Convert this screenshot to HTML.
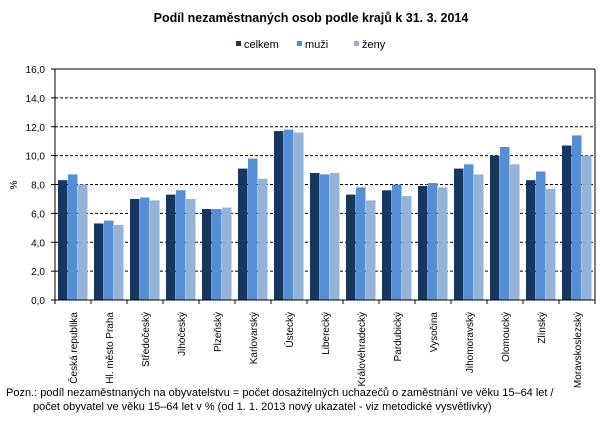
<!DOCTYPE html>
<html><head><meta charset="utf-8"><style>
body{margin:0;background:#fff;}
svg{display:block;font-family:"Liberation Sans",Arial,sans-serif;}
</style></head><body>
<svg id="chart" width="610" height="442">
<text x="311" y="22" text-anchor="middle" font-size="12.5" font-weight="bold" fill="#000">Podíl nezaměstnaných  osob  podle krajů  k 31. 3. 2014</text>
<g>
<g><rect x="236" y="41" width="5" height="5" fill="#17375e"/><text x="244" y="48" font-size="11">celkem</text></g>
<g><rect x="297" y="41" width="5" height="5" fill="#558ed5"/><text x="305" y="48" font-size="11">muži</text></g>
<g><rect x="354" y="41" width="5" height="5" fill="#95b3d7"/><text x="362" y="48" font-size="11">ženy</text></g>
</g>
<text transform="translate(17,185) rotate(-90)" text-anchor="middle" font-size="10">%</text>
<g id="grid"></g><g id="bars"></g><g id="axes"></g>
<text x="6" y="396" font-size="11">Pozn.: podíl nezaměstnaných na obyvatelstvu = počet dosažitelných uchazečů o zaměstnání ve věku 15–64 let /</text>
<text x="33" y="410" font-size="11">počet obyvatel ve věku 15–64 let v % (od 1. 1. 2013 nový ukazatel - viz metodické vysvětlivky)</text>
</svg>
<script>
const categories=["Česká republika","Hl. město Praha","Středočeský","Jihočeský","Plzeňský","Karlovarský","Ústecký","Liberecký","Královéhradecký","Pardubický","Vysočina","Jihomoravský","Olomoucký","Zlínský","Moravskoslezský"];
const celkem=[8.3,5.3,7.0,7.3,6.3,9.1,11.7,8.8,7.3,7.6,7.9,9.1,10.0,8.3,10.7];
const muzi=[8.7,5.5,7.1,7.6,6.3,9.8,11.8,8.7,7.8,8.0,8.1,9.4,10.6,8.9,11.4];
const zeny=[8.0,5.2,6.9,7.0,6.4,8.4,11.6,8.8,6.9,7.2,7.8,8.7,9.4,7.7,10.0];
const yTicks=[0,2,4,6,8,10,12,14,16];
const x0=55,x1=595,y0=300,yTop=69,yMax=16;
const NS="http://www.w3.org/2000/svg";
const bw=(x1-x0)/categories.length;
const Y=v=>y0-(v/yMax)*(y0-yTop);
const X=i=>x0+i*bw;
function mk(t,a,p){const e=document.createElementNS(NS,t);for(const k in a)e.setAttribute(k,a[k]);p.appendChild(e);return e;}
const grid=document.getElementById('grid'),bars=document.getElementById('bars'),axes=document.getElementById('axes');
yTicks.forEach(v=>{
 const y=Y(v);
 if(v>0&&v<yMax){const l=mk('line',{x1:x0,x2:x1,y1:y,y2:y,stroke:'#000','stroke-dasharray':'3,2','stroke-width':1},grid);
 
 }
 const t=mk('text',{x:x0-10,y:y+4,'text-anchor':'end','font-size':10},axes);
 t.textContent=v.toFixed(1).replace('.',',');
 
 
 mk('line',{x1:x0-4,x2:x0,y1:y,y2:y,stroke:'#000'},axes);
});
const series=[[celkem,'#17375e','celkem'],[muzi,'#558ed5','muzi'],[zeny,'#95b3d7','zeny']];
categories.forEach((c,i)=>{
 series.forEach((s,j)=>{
  const v=s[0][i];
  const r=mk('rect',{x:X(i)+3+j*10,y:Y(v),width:9.5,height:y0-Y(v),fill:s[1]},bars);
  
  
 });
 const cx=X(i)+bw/2+4;
 const t=mk('text',{x:0,y:0,'text-anchor':'end','font-size':10,transform:`translate(${cx},312) rotate(-90)`},axes);
 t.textContent=c;
 
 
 mk('line',{x1:X(i+1),x2:X(i+1),y1:y0,y2:y0+4,stroke:'#000'},axes);
});
mk('line',{x1:x0,x2:x1,y1:yTop,y2:yTop,stroke:'#000'},axes);
mk('line',{x1:x1,x2:x1,y1:yTop,y2:y0,stroke:'#000'},axes);
mk('line',{x1:x0,x2:x0,y1:yTop,y2:y0+4,stroke:'#000'},axes);
mk('line',{x1:x0-4,x2:x1,y1:y0,y2:y0,stroke:'#000'},axes);
</script>
</body></html>
